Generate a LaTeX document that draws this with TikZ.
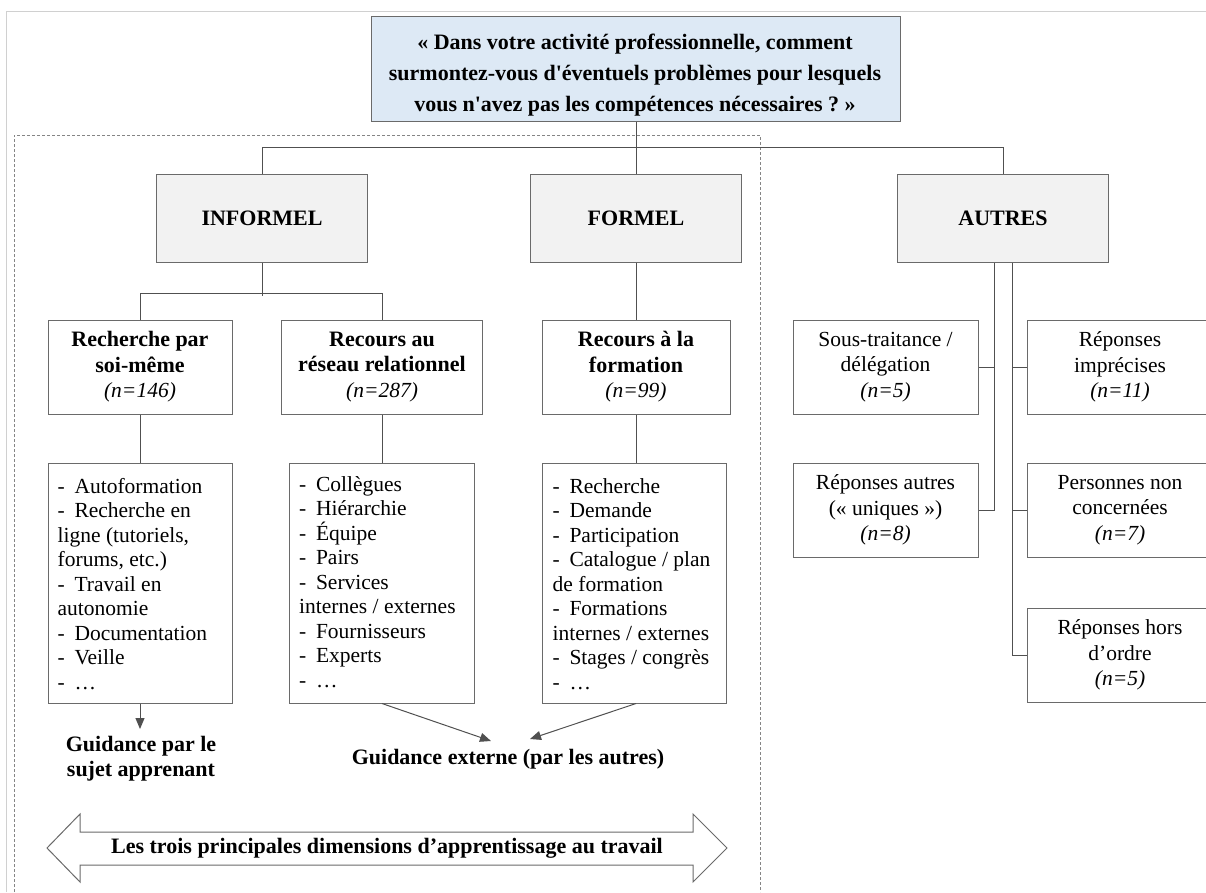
\documentclass[tikz,border=0pt]{standalone}
\usepackage{fontspec}
\setmainfont{Liberation Serif}
\usetikzlibrary{arrows.meta}
\definecolor{ln}{HTML}{505050}
\definecolor{bd}{HTML}{6A6A6A}
\definecolor{qfill}{HTML}{DDE9F5}
\definecolor{catfill}{HTML}{F2F2F2}
\definecolor{frame}{HTML}{D0D0D0}
\newcommand{\dsh}{-\hspace{0.45em}}
\begin{document}
\begin{tikzpicture}[x=1pt,y=-1pt,
  conn/.style={draw=ln, line width=1pt},
  arr/.style={draw=ln, line width=1pt, -{Triangle[length=11pt,width=9pt]}},
  box/.style={draw=bd, line width=1pt, fill=white, inner sep=0pt, align=center,
    font=\fontsize{21.5}{25.5}\selectfont},
  qbox/.style={draw=bd, line width=1pt, fill=qfill, minimum width=529pt, minimum height=105pt},
  qtext/.style={align=center, inner sep=0pt, font=\bfseries\fontsize{22}{31}\selectfont},
  cat/.style={box, fill=catfill, minimum width=211pt, minimum height=88pt,
    font=\bfseries\fontsize{22}{25}\selectfont},
  sub/.style={box, minimum height=94pt},
  lstbox/.style={draw=bd, line width=1pt, fill=white, minimum width=184pt, minimum height=240pt},
  lsttext/.style={anchor=west, align=left, inner sep=0pt, font=\fontsize{21.5}{24.5}\selectfont},
  oth/.style={box, minimum width=185pt, minimum height=94pt},
  guid/.style={align=center, inner sep=0pt, font=\bfseries\fontsize{22}{25}\selectfont}
]
\useasboundingbox (0,0) rectangle (1206,892);
% outer frame and dashed grouping
\draw[frame, line width=1pt] (6,892) -- (6,11) -- (1206,11);
\draw[ln!70, line width=0.8pt, dash pattern=on 3pt off 2pt] (14,892) -- (14,135) -- (760,135) -- (760,892);

% question
\node[qbox] (q) at (636,68.5) {};
\node[qtext] (qt) at (635,75.5) {«~Dans votre activité professionnelle, comment\\surmontez-vous d\textquotesingle éventuels problèmes pour lesquels\\vous n\textquotesingle avez pas les compétences nécessaires ?~»};

% categories
\node[cat] (inf) at (262,218) {INFORMEL};
\node[cat] (for) at (636,218) {FORMEL};
\node[cat] (aut) at (1003,218) {AUTRES};

% second level
\node[sub, minimum width=184pt] (b1) at (140,367) {\textbf{\fontsize{22}{25}\selectfont Recherche par}\\\textbf{\fontsize{22}{25}\selectfont soi-même}\\\textit{(n=146)}};
\node[sub, minimum width=201pt] (b2) at (382,367) {\textbf{\fontsize{22}{25}\selectfont Recours au}\\\textbf{\fontsize{22}{25}\selectfont réseau relationnel}\\\textit{(n=287)}};
\node[sub, minimum width=188pt] (b3) at (636,367) {\textbf{\fontsize{22}{25}\selectfont Recours à la}\\\textbf{\fontsize{22}{25}\selectfont formation}\\\textit{(n=99)}};

% lists
\node[lstbox] (l1) at (140,583) {};
\node[lstbox, minimum width=185pt] (l2) at (382,583) {};
\node[lstbox] (l3) at (634,583) {};
\node[lsttext] (l1t) at ([xshift=10pt,yshift=-1pt]l1.west) {\dsh Autoformation\\\dsh Recherche en\\ligne (tutoriels,\\forums, etc.)\\\dsh Travail en\\autonomie\\\dsh Documentation\\\dsh Veille\\\dsh …};
\node[lsttext] (l2t) at ([xshift=10pt,yshift=1pt]l2.west) {\dsh Collègues\\\dsh Hiérarchie\\\dsh Équipe\\\dsh Pairs\\\dsh Services\\internes / externes\\\dsh Fournisseurs\\\dsh Experts\\\dsh …};
\node[lsttext] (l3t) at ([xshift=11pt,yshift=-1pt]l3.west) {\dsh Recherche\\\dsh Demande\\\dsh Participation\\\dsh Catalogue / plan\\de formation\\\dsh Formations\\internes / externes\\\dsh Stages / congrès\\\dsh …};

% autres
\node[oth] (s1) at (885.5,367) {Sous-traitance /\\délégation\\\textit{(n=5)}};
\node[oth] (s2) at (885.5,510) {Réponses autres\\(«~uniques~»)\\\textit{(n=8)}};
\node[oth] (r1) at (1120,367) {Réponses\\imprécises\\\textit{(n=11)}};
\node[oth] (r2) at (1120,510) {Personnes non\\concernées\\\textit{(n=7)}};
\node[oth] (r3) at (1120,655) {Réponses hors\\d’ordre\\\textit{(n=5)}};

% guidance
\node[guid] (g1) at (141,759) {Guidance par le\\sujet apprenant};
\node[guid] (g2) at (508,759) {Guidance externe (par les autres)};

% connectors
\draw[conn] (q.south) -- (for.north);
\draw[conn] (inf.north) -- ++(0,-26) -| (aut.north);
\draw[conn] (inf.south) -- ++(0,33);
\draw[conn] (b1.north) -- ++(0,-26) -| (b2.north);
\draw[conn] (for.south) -- (b3.north);
\draw[conn] (b1.south) -- (l1.north);
\draw[conn] (b2.south) -- (l2.north);
\draw[conn] (b3.south) -- (b3.south |- l3.north);

\draw[conn] ([xshift=-9pt]aut.south) |- (s2.east);
\draw[conn] (s1.east) -| ([xshift=-9pt]aut.south);
\draw[conn] ([xshift=9pt]aut.south) |- (r3.west);
\draw[conn] (r1.west) -| ([xshift=9pt]aut.south);
\draw[conn] (r2.west) -| ([xshift=9pt]aut.south);

\coordinate (t1) at (140,729);
\coordinate (t2) at (491,741);
\coordinate (t3) at (530,739);
\draw[arr] (l1.south) -- (t1);
\draw[arr] (l2.south) -- (t2);
\draw[arr] ([xshift=2pt]l3.south) -- (t3);

% double arrow
\draw[draw=bd, line width=1pt, fill=white] (47,848) -- (80,814) -- (80,832) -- (693,832) -- (693,814) -- (727,848) -- (693,882) -- (693,865) -- (80,865) -- (80,882) -- cycle;
\node[guid] (dim) at (387,848.5) {Les trois principales dimensions d’apprentissage au travail};
\end{tikzpicture}
\end{document}
